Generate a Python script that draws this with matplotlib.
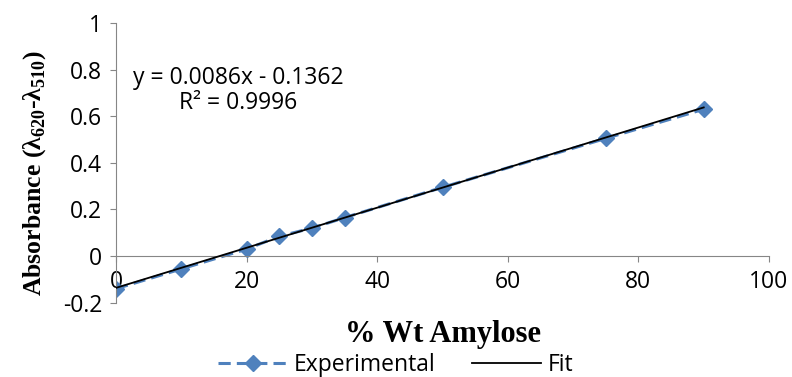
import numpy as np
import matplotlib
matplotlib.use("Agg")
import matplotlib.pyplot as plt

# data
amylose = [0, 10, 20, 25, 30, 35, 50, 75, 90]
absorb = [-0.14, -0.055, 0.03, 0.085, 0.12, 0.165, 0.295, 0.505, 0.63]
slope, intercept = 0.0086, -0.1362
xticks = [0, 20, 40, 60, 80, 100]
yticks = [-0.2, 0, 0.2, 0.4, 0.6, 0.8, 1]
ytick_labels = ['-0.2', '0', '0.2', '0.4', '0.6', '0.8', '1']

plt.rcParams['mathtext.fontset'] = 'custom'
plt.rcParams['mathtext.rm'] = 'Liberation Serif:bold'
plt.rcParams['mathtext.bf'] = 'Liberation Serif:bold'

tickfont = 'Open Sans'
fs = 16.5
axcol = '#868686'

fig = plt.figure(figsize=(7.92, 3.77), dpi=100)
ax = fig.add_axes([0.1465, 0.197, 0.8245, 0.742])

# axis lines first, since moving the spine resets the ticks
for s in ['top', 'right']:
    ax.spines[s].set_visible(False)
ax.spines['bottom'].set_position(('data', 0))
ax.spines['bottom'].set_color(axcol)
ax.spines['left'].set_color(axcol)

xfit = np.array([amylose[0], amylose[-1]])
ax.plot(amylose, absorb, ls=(0, (4, 2)), lw=2.2, color='#4F81BD',
        marker='D', ms=8.5, label='Experimental', zorder=2)
ax.plot(xfit, slope * xfit + intercept, color='black', lw=1.3, label='Fit', zorder=3)

ax.set_xlim(0, 100)
ax.set_ylim(-0.2, 1)
ax.set_xticks(xticks)
ax.set_yticks(yticks)
ax.set_xticklabels([str(t) for t in xticks], fontname=tickfont, fontsize=fs)
ax.set_yticklabels(ytick_labels, fontname=tickfont, fontsize=fs)
ax.tick_params(axis='x', direction='out', length=4, color=axcol, pad=6)
ax.tick_params(axis='y', direction='out', length=4, color=axcol, pad=6)

ax.set_xlabel('% Wt Amylose', fontname='Liberation Serif', fontweight='bold', fontsize=22)
ax.xaxis.set_label_coords(0.5, -0.06)
ax.set_ylabel('Absorbance (λ$_{620}$-λ$_{510}$)', fontname='Liberation Serif',
              fontweight='bold', fontsize=18.5)
ax.yaxis.set_label_coords(-0.104, 0.465)

ax.text(18.7, 0.764, 'y = 0.0086x - 0.1362', ha='center', va='center',
        fontname=tickfont, fontsize=fs)
ax.text(18.7, 0.657, 'R² = 0.9996', ha='center', va='center',
        fontname=tickfont, fontsize=fs)

leg = fig.legend(loc='center', bbox_to_anchor=(0.5, 0.032), ncol=2, frameon=False,
                 prop={'family': tickfont, 'size': fs}, handlelength=3.0,
                 columnspacing=1.6, handletextpad=0.3)

fig.savefig('out.png', dpi=100)
